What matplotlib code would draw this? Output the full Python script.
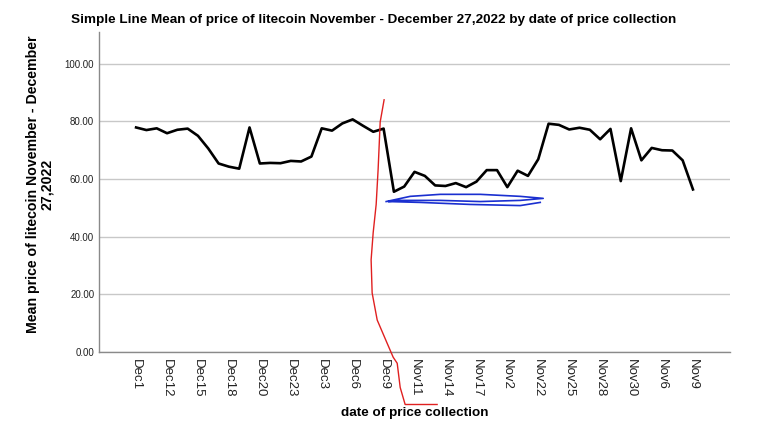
import matplotlib
matplotlib.use("Agg")
import matplotlib.pyplot as plt

plt.rcParams["font.family"] = ["Liberation Sans", "DejaVu Sans"]

# Data
dates = ["Dec1", "Dec10", "Dec11", "Dec12", "Dec13", "Dec14", "Dec15", "Dec16", "Dec17",
         "Dec18", "Dec19", "Dec2", "Dec20", "Dec21", "Dec22", "Dec23", "Dec24", "Dec25",
         "Dec3", "Dec4", "Dec5", "Dec6", "Dec7", "Dec8", "Dec9",
         "Nov1", "Nov10", "Nov11", "Nov12", "Nov13", "Nov14", "Nov15", "Nov16", "Nov17",
         "Nov18", "Nov19", "Nov2", "Nov20", "Nov21", "Nov22", "Nov23", "Nov24", "Nov25",
         "Nov26", "Nov27", "Nov28", "Nov29", "Nov3", "Nov30", "Nov4", "Nov5", "Nov6",
         "Nov7", "Nov8", "Nov9"]
price = [77.9, 77.0, 77.6, 75.9, 77.1, 77.5, 75.0, 70.6, 65.4,
         64.3, 63.6, 77.9, 65.4, 65.6, 65.5, 66.3, 66.1, 67.8,
         77.6, 76.8, 79.3, 80.7, 78.5, 76.4, 77.5,
         55.6, 57.4, 62.5, 61.1, 57.8, 57.6, 58.6, 57.2, 59.1,
         63.1, 63.1, 57.2, 62.9, 61.1, 66.9, 79.2, 78.8, 77.2,
         77.8, 77.1, 73.8, 77.4, 59.3, 77.6, 66.5, 70.8, 70.0,
         69.9, 66.5, 56.4]
yticks = [0, 20, 40, 60, 80, 100]

# hand-drawn marks on the reference (in data units of the axes)
red_x = [24.05, 23.67, 23.47, 23.28, 22.99, 22.79, 22.89, 23.38, 24.35, 24.93, 25.32, 25.61, 26.09, 29.19]
red_y = [87.5, 79.8, 63.4, 51.2, 41.4, 32.0, 20.5, 11.1, 3.0, -1.8, -3.9, -12.3, -18.2, -18.2]
blue_x = [24.25, 26.58, 29.49, 33.37, 37.25, 39.48, 37.25, 33.37, 29.49, 25.61, 24.44,
          27.55, 32.40, 37.25, 39.19]
blue_y = [52.2, 54.0, 54.7, 54.7, 54.0, 53.3, 52.6, 52.2, 52.6, 52.6, 52.2,
          51.9, 51.2, 50.8, 51.9]

fig = plt.figure(figsize=(7.68, 4.33), dpi=100)
ax = fig.add_axes([0.129, 0.187, 0.8215, 0.739])

x = list(range(len(dates)))
ax.plot(x, price, color="black", linewidth=1.9, zorder=3)

ax.plot(red_x, red_y, color="#e02020", linewidth=1.0, clip_on=False, zorder=4)
ax.plot(blue_x, blue_y, color="#1a2fd0", linewidth=1.2, clip_on=False, zorder=4)

ax.set_xlim(-3.59, len(dates) - 1 + 3.59)
ax.set_ylim(0, 111)
ax.set_yticks(yticks)
ax.set_yticklabels([f"{v:.2f}" for v in yticks], fontsize=7, color="#222222")
ax.set_xticks(x[::3])
ax.set_xticklabels(dates[::3], rotation=-90, fontsize=9.5, color="#222222")
ax.tick_params(axis="both", length=0)
ax.tick_params(axis="y", pad=3.5)
ax.tick_params(axis="x", pad=5)

ax.grid(axis="y", color="#c8c8c8", linewidth=1.0)
ax.set_axisbelow(True)
for side in ["top", "right"]:
    ax.spines[side].set_visible(False)
for side in ["left", "bottom"]:
    ax.spines[side].set_color("#8a8a8a")
    ax.spines[side].set_linewidth(1.0)

fig.text(0.487, 1 - 20 / 433, "Simple Line Mean of price of litecoin November - December 27,2022 by date of price collection",
         ha="center", va="center", fontsize=9.7, fontweight="bold")
fig.text(0.54, 1 - 413 / 433, "date of price collection", ha="center", va="center",
         fontsize=9.7, fontweight="bold")
fig.text(0.052, 1 - 184 / 433, "Mean price of litecoin November - December\n27,2022",
         ha="center", va="center", rotation=90, fontsize=10.2, fontweight="bold",
         multialignment="center", linespacing=1.0)

fig.savefig("out.png", dpi=100)
